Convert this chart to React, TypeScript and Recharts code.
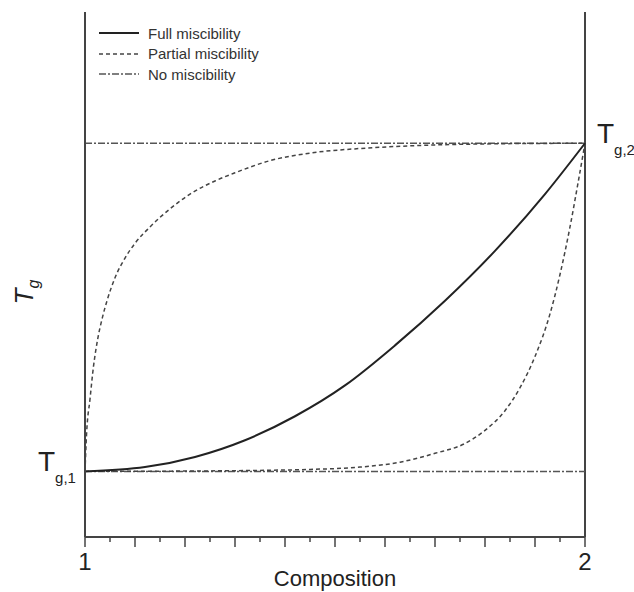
import React from 'react';
import {
  LineChart,
  Line,
  XAxis,
  YAxis,
  ReferenceLine,
  Legend,
} from 'recharts';

// composition axis runs from pure component 1 to pure component 2
const fullComp = [1, 1.12, 1.22, 1.32, 1.42, 1.52, 1.62, 1.72, 1.82, 1.92, 2];
const fullTg = [0, 0.013, 0.044, 0.095, 0.168, 0.262, 0.384, 0.52, 0.672, 0.845, 1];

const upperComp = [1, 1.003, 1.01, 1.017, 1.025, 1.035, 1.045, 1.06, 1.08, 1.1, 1.13, 1.17, 1.21, 1.26, 1.3, 1.37, 1.45, 1.55, 1.65, 1.8, 2];
const upperTg = [0, 0.11, 0.22, 0.32, 0.4, 0.47, 0.525, 0.59, 0.65, 0.695, 0.745, 0.8, 0.845, 0.885, 0.91, 0.947, 0.97, 0.984, 0.992, 0.998, 1];

const lowerComp = [1, 1.2, 1.35, 1.45, 1.55, 1.63, 1.7, 1.76, 1.8, 1.84, 1.87, 1.9, 1.93, 1.95, 1.97, 1.985, 2];
const lowerTg = [0, 0.001, 0.003, 0.006, 0.013, 0.028, 0.055, 0.085, 0.125, 0.185, 0.255, 0.35, 0.48, 0.6, 0.745, 0.87, 1];

const noneComp = [1, 2];
const noneTg1 = [0, 0];
const noneTg2 = [1, 1];

const xTicks = [1, 1.05, 1.1, 1.15, 1.2, 1.25, 1.3, 1.35, 1.4, 1.45, 1.5, 1.55, 1.6, 1.65, 1.7, 1.75, 1.8, 1.85, 1.9, 1.95, 2];
const xLabels = [1, 2];

const legendItems = [
  { name: 'Full miscibility', dash: undefined, color: '#222', width: 2 },
  { name: 'Partial miscibility', dash: '4 3', color: '#444', width: 1.5 },
  { name: 'No miscibility', dash: '7 2 2 2', color: '#555', width: 1.5 },
];

const FONT = '"Liberation Sans", Arial, Helvetica, sans-serif';
const AXIS = '#444';

const toRows = (xs: number[], ys: number[]) => xs.map((x, i) => ({ x, y: ys[i] }));

const fullData = toRows(fullComp, fullTg);
const upperData = toRows(upperComp, upperTg);
const lowerData = toRows(lowerComp, lowerTg);
const tg1Data = toRows(noneComp, noneTg1);
const tg2Data = toRows(noneComp, noneTg2);

const CompTick = (props: any) => {
  const { x, y, payload } = props;
  const v = payload.value;
  const major = Math.abs(v * 10 - Math.round(v * 10)) < 1e-6;
  const showLabel = xLabels.some((l) => Math.abs(l - v) < 1e-9);
  return (
    <g>
      <line x1={x} x2={x} y1={y} y2={y + (major ? 10 : 5)} stroke={AXIS} strokeWidth={1.5} />
      {showLabel && (
        <text x={x} y={y + 33} textAnchor="middle" fontSize={24} fontFamily={FONT} fill="#222">
          {v}
        </text>
      )}
    </g>
  );
};

const XTitle = (props: any) => {
  const vb = props.viewBox;
  return (
    <text x={vb.x + vb.width / 2} y={vb.y + 49} textAnchor="middle" fontSize={22} fontFamily={FONT} fill="#222">
      Composition
    </text>
  );
};

const YTitle = (props: any) => {
  const vb = props.viewBox;
  const tx = vb.x + 33;
  const ty = vb.y + vb.height / 2 + 30;
  return (
    <text
      x={tx}
      y={ty}
      transform={`rotate(-90 ${tx} ${ty})`}
      fontSize={26}
      fontStyle="italic"
      fontFamily={FONT}
      fill="#222"
    >
      T<tspan dy={6} fontSize={16}>g</tspan>
    </text>
  );
};

const tgLabel = (which: 'g,1' | 'g,2') => (props: any) => {
  const { x, y, index } = props;
  const left = which === 'g,1';
  if ((left && index !== 0) || (!left && index !== 1)) return null;
  const tx = left ? x - 47 : x + 12;
  return (
    <text x={tx} y={y} fontSize={28} fontFamily={FONT} fill="#222">
      T<tspan dy={12} fontSize={15}>{which}</tspan>
    </text>
  );
};

const LegendBox = () => (
  <div style={{ fontFamily: FONT, fontSize: 15, color: '#333' }}>
    {legendItems.map((item) => (
      <div key={item.name} style={{ display: 'flex', alignItems: 'center', height: 20.5 }}>
        <svg width={44} height={10}>
          <line
            x1={0}
            x2={40}
            y1={5}
            y2={5}
            stroke={item.color}
            strokeWidth={item.width}
            strokeDasharray={item.dash}
          />
        </svg>
        <span style={{ marginLeft: 5 }}>{item.name}</span>
      </div>
    ))}
  </div>
);

export default function App() {
  return (
    <div style={{ position: 'absolute', left: 0, top: 0, width: 634, height: 592, background: '#fff' }}>
      <LineChart width={634} height={592} margin={{ top: 12, right: 49, bottom: 15, left: 0 }}>
        <XAxis
          dataKey="x"
          type="number"
          domain={[1, 2]}
          ticks={xTicks}
          interval={0}
          height={40}
          tickSize={0}
          tickMargin={0}
          tickLine={false}
          tick={<CompTick />}
          axisLine={{ stroke: AXIS, strokeWidth: 2 }}
          label={<XTitle />}
          allowDuplicatedCategory={false}
        />
        <YAxis
          type="number"
          domain={[-0.2, 1.4]}
          width={85}
          tick={false}
          tickLine={false}
          axisLine={{ stroke: AXIS, strokeWidth: 2 }}
          label={<YTitle />}
        />
        <ReferenceLine x={2} stroke={AXIS} strokeWidth={2} />
        <Legend
          layout="vertical"
          align="center"
          verticalAlign="middle"
          content={<LegendBox />}
          wrapperStyle={{ left: 99, top: 23, width: 'auto' }}
        />
        <Line
          data={tg1Data}
          dataKey="y"
          type="linear"
          stroke="#555"
          strokeWidth={1.5}
          strokeDasharray="7 2 2 2"
          dot={false}
          isAnimationActive={false}
          label={tgLabel('g,1')}
          legendType="none"
        />
        <Line
          data={tg2Data}
          dataKey="y"
          type="linear"
          stroke="#555"
          strokeWidth={1.5}
          strokeDasharray="7 2 2 2"
          dot={false}
          isAnimationActive={false}
          label={tgLabel('g,2')}
          legendType="none"
        />
        <Line
          data={upperData}
          dataKey="y"
          type="monotone"
          stroke="#444"
          strokeWidth={1.5}
          strokeDasharray="4 3"
          dot={false}
          isAnimationActive={false}
        />
        <Line
          data={lowerData}
          dataKey="y"
          type="monotone"
          stroke="#444"
          strokeWidth={1.5}
          strokeDasharray="4 3"
          dot={false}
          isAnimationActive={false}
        />
        <Line
          data={fullData}
          dataKey="y"
          type="monotone"
          stroke="#222"
          strokeWidth={2}
          dot={false}
          isAnimationActive={false}
        />
      </LineChart>
    </div>
  );
}
